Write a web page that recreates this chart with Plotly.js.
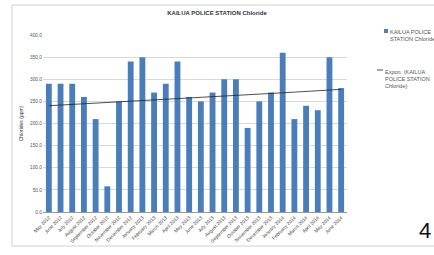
<!DOCTYPE html>
<html>
<head>
<meta charset="utf-8">
<script src="https://cdn.plot.ly/plotly-3.0.1.min.js"></script>
<style>html,body{margin:0;padding:0;background:#fff;}#chart{width:434px;height:255px;}</style>
</head>
<body>
<div id="chart"></div>
<script>
const months = ["May 2012","June 2012","July 2012","August 2012","September 2012","October 2012","November 2012","December 2012","January 2013","February 2013","March 2013","April 2013","May 2013","June 2013","July 2013","August 2013","September 2013","October 2013","November 2013","December 2013","January 2014","February 2014","March 2014","April 2014","May 2014","June 2014"];
const chloride = [290,290,290,260,210,58,250,340,350,270,290,340,260,250,270,300,300,190,250,270,360,210,240,230,350,280];
const seriesName = "KAILUA POLICE<br>STATION Chloride";
const trendName = "Expon. (KAILUA<br>POLICE STATION<br>Chloride)";
const yTicks = [0,50,100,150,200,250,300,350,400];

// exponential least-squares trendline fitted on the data
const n = chloride.length;
let sx=0, sy=0, sxx=0, sxy=0;
chloride.forEach((v,i)=>{const x=i+1, ly=Math.log(v); sx+=x; sy+=ly; sxx+=x*x; sxy+=x*ly;});
const b = (n*sxy - sx*sy)/(n*sxx - sx*sx);
const a = (sy - b*sx)/n;
const trend = chloride.map((v,i)=>Math.exp(a + b*(i+1)));

const L=43, R=87, T=35, B=43, W=434-L-R, H=255-T-B;
const px = x => (x-L)/W, py = y => (255-B-y)/H;

const data = [
  {type:'bar', x:months, y:chloride, name:seriesName, marker:{color:'#4A7EBB'}, showlegend:false},
  {type:'scatter', mode:'lines', x:months, y:trend, name:trendName, line:{color:'#222', width:0.8}, showlegend:false}
];
const layout = {
  width:434, height:255,
  margin:{l:L, r:R, t:T, b:B},
  paper_bgcolor:'#fff', plot_bgcolor:'#fff',
  bargap:0.5,
  font:{family:'Liberation Sans, Arial, sans-serif', color:'#444'},
  title:{text:'<b>KAILUA POLICE STATION Chloride</b>', font:{size:6, color:'#333'}, x:px(195), xanchor:'center', y:1-13/255, yanchor:'middle'},
  xaxis:{tickvals:months, ticktext:months, tickangle:-45, tickfont:{size:4.8, color:'#444'}, showline:true, linecolor:'#999', linewidth:1, ticks:'', showgrid:false, range:[-0.5, months.length-0.5]},
  yaxis:{range:[0,400], tickvals:yTicks, ticktext:yTicks.map(v=>v.toFixed(1)), tickfont:{size:4.8, color:'#555'}, showgrid:true, gridcolor:'#d9d9d9', gridwidth:1, zeroline:false, showline:false, ticks:'',
         title:{text:'Chlorides (ppm)', font:{size:5, color:'#333'}, standoff:6}},
  showlegend:false,
  shapes:[
    {type:'rect', xref:'paper', yref:'paper', x0:px(12), x1:px(445), y0:py(246), y1:py(5), line:{color:'#d0d0d0', width:1}, fillcolor:'rgba(0,0,0,0)', layer:'below'},
    {type:'rect', xref:'paper', yref:'paper', x0:px(384), x1:px(388), y0:py(33), y1:py(29), line:{width:0}, fillcolor:'#4A7EBB'},
    {type:'line', xref:'paper', yref:'paper', x0:px(377), x1:px(383), y0:py(70), y1:py(70), line:{color:'#222', width:0.8}}
  ],
  annotations:[
    {text:seriesName, xref:'paper', yref:'paper', x:px(388), y:py(27), xanchor:'left', yanchor:'top', align:'left', showarrow:false, font:{size:5.5, color:'#555'}},
    {text:trendName, xref:'paper', yref:'paper', x:px(383), y:py(67), xanchor:'left', yanchor:'top', align:'left', showarrow:false, font:{size:5.5, color:'#555'}},
    {text:'4', xref:'paper', yref:'paper', x:px(417), y:py(230), xanchor:'left', yanchor:'middle', showarrow:false, font:{size:22, color:'#111', family:'Liberation Sans, Arial, sans-serif'}}
  ]
};
Plotly.newPlot('chart', data, layout, {staticPlot:true, displayModeBar:false});
</script>
</body>
</html>
